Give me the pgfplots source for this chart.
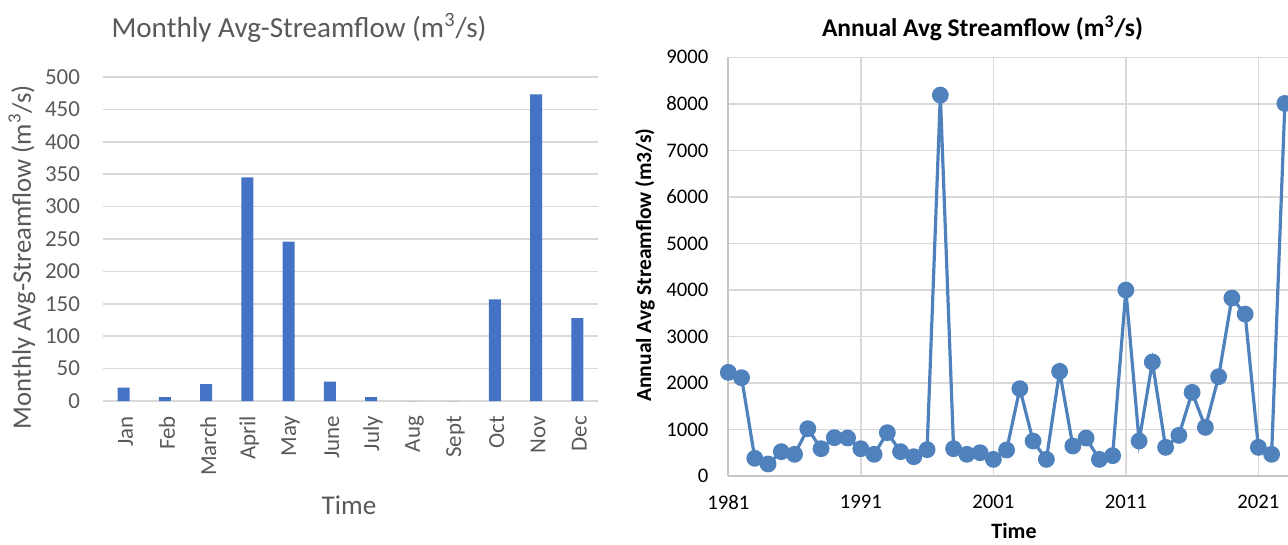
\documentclass[border=0pt]{standalone}
\usepackage{pgfplots}
\pgfplotsset{compat=1.18}
\usepackage{fontspec}
\setmainfont{Carlito}
\definecolor{barblue}{HTML}{4472C4}
\definecolor{lineblue}{HTML}{4F81BD}
\definecolor{gridgray}{HTML}{D9D9D9}
\definecolor{axisgray}{HTML}{C6C6C6}
\definecolor{txtgray}{HTML}{595959}
\begin{document}
\begin{tikzpicture}[x=1bp,y=1bp]
\path[use as bounding box] (0,0) rectangle (644,272);
% ---------- Left: monthly bars ----------
\begin{axis}[
  at={(51.5bp,71.5bp)}, anchor=south west,
  scale only axis, width=247.5bp, height=162bp,
  xmin=-0.5, xmax=11.5, ymin=0, ymax=500,
  ytick={0,50,...,500},
  xtick={0,...,11},
  xticklabels={Jan,Feb,March,April,May,June,July,Aug,Sept,Oct,Nov,Dec},
  major tick length=0pt,
  axis lines*=left,
  x axis line style={gridgray, line width=0.8bp},
  y axis line style={draw=none},
  ymajorgrids, grid style={gridgray, line width=0.8bp},
  tick label style={font=\fontsize{11.5}{13}\selectfont, text=txtgray},
  yticklabel style={xshift=-8bp},
  xticklabel style={rotate=90, anchor=east, yshift=-1bp, xshift=-4bp},
  /pgf/number format/assume math mode=true,
  ybar, bar width=6bp,
]
\addplot[fill=barblue, draw=none] coordinates {
(0,20.5) (1,6) (2,26) (3,345) (4,246) (5,30) (6,6) (7,0) (8,0) (9,157) (10,473) (11,128)};
\end{axis}
\node[text=txtgray, font=\fontsize{14.6}{17}\selectfont] at (149.5,258) {Monthly Avg-Streamflow (m\textsuperscript{3}/s)};
\node[text=txtgray, font=\fontsize{13.4}{15}\selectfont, rotate=90] at (11,143.5) {Monthly Avg-Streamflow (m\textsuperscript{3}/s)};
\node[text=txtgray, font=\fontsize{13.6}{15}\selectfont] at (174.5,19.5) {Time};
% ---------- Right: annual line ----------
\begin{axis}[
  at={(364.15bp,34bp)}, anchor=south west,
  scale only axis, width=284.9bp, height=209.35bp,
  xmin=1981, xmax=2024, ymin=0, ymax=9000,
  xtick={1981,1991,...,2021},
  ytick={0,1000,...,9000},
  major tick length=0pt,
  axis x line*=bottom, axis y line*=left,
  axis line style={axisgray, line width=0.9bp, -},
  grid=major, grid style={gridgray, line width=0.8bp},
  tick label style={font=\fontsize{10.4}{12}\selectfont, text=black},
  /pgf/number format/1000 sep={},
  /pgf/number format/assume math mode=true,
  yticklabel style={xshift=-6.5bp},
  xticklabel style={yshift=-6bp},
]
\addplot[lineblue, line width=1.6bp, mark=*, mark size=3.4bp, mark options={fill=lineblue, draw=lineblue}] coordinates {
(1981,2228) (1982,2113) (1983,380) (1984,258) (1985,523) (1986,466) (1987,1017)
(1988,587) (1989,824) (1990,817) (1991,587) (1992,466) (1993,931) (1994,523)
(1995,415) (1996,566) (1997,8188) (1998,587) (1999,466) (2000,501) (2001,358)
(2002,559) (2003,1877) (2004,752) (2005,358) (2006,2249) (2007,645) (2008,817)
(2009,358) (2010,437) (2011,3997) (2012,752) (2013,2450) (2014,616) (2015,874)
(2016,1798) (2017,1046) (2018,2135) (2019,3825) (2020,3481) (2021,616) (2022,466)
(2023,8009)};
\end{axis}
\node[font=\bfseries\fontsize{12.8}{15}\selectfont] at (491.25,258) {Annual Avg Streamflow (m\textsuperscript{3}/s)};
\node[font=\bfseries\fontsize{10.8}{12}\selectfont, rotate=90] at (322.5,139.5) {Annual Avg Streamflow (m3/s)};
\node[font=\bfseries\fontsize{11}{13}\selectfont, inner sep=1bp] at (507,6.5) {Time};
\end{tikzpicture}
\end{document}
